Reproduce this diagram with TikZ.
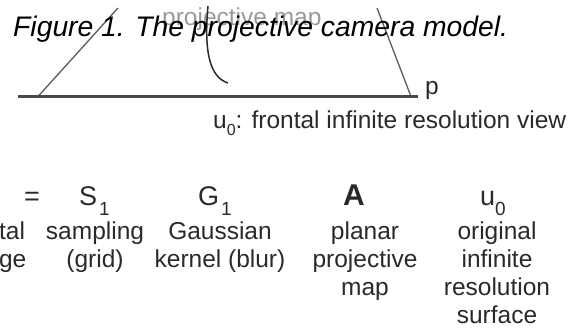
\documentclass[tikz,border=0pt]{standalone}
\usepackage{fontspec}
\setmainfont{Liberation Sans}
\definecolor{txtdark}{HTML}{2A2A2A}
\definecolor{txtgray}{HTML}{9A9A9A}
\definecolor{linegray}{HTML}{5A5A5A}
\definecolor{basegray}{HTML}{4A4A4A}
\newcommand{\subsc}[1]{\raisebox{-10pt}{\fontsize{19}{19}\selectfont #1}}
\begin{document}
\begin{tikzpicture}[x=1pt,y=-1pt,
  lbl/.style={inner sep=0pt, font=\fontsize{24.5}{28}\selectfont, text=txtdark, align=center, anchor=base},
  sym/.style={inner sep=0pt, font=\fontsize{27}{30}\selectfont, text=txtdark, anchor=base west},
  side/.style={draw=linegray, line width=1.3pt},
  baseline line/.style={draw=basegray, line width=3pt}]
\useasboundingbox (0,0) rectangle (570,329);
% faded label behind the caption
\node[inner sep=0pt, anchor=base west, text=txtgray, font=\fontsize{24.5}{28}\selectfont] (pm) at (162,26) {projective map};
% frustum lines
\coordinate (ltop) at (118,8);
\coordinate (lbot) at (38,96.5);
\coordinate (rtop) at (377,8);
\coordinate (rbot) at (411,96.5);
\coordinate (hl) at (18,96.5);
\coordinate (hr) at (418,96.5);
\draw[side] (ltop) -- (lbot);
\draw[side] (rtop) -- (rbot);
\draw[baseline line] (hl) -- (hr);
\coordinate (ctop) at (208,6);
\coordinate (cbot) at (228,83);
\draw[draw=txtdark, line width=1.5pt] (ctop) .. controls (204,50) and (209,77) .. (cbot);
\node[inner sep=0pt, anchor=base west, text=txtdark, font=\fontsize{24.5}{28}\selectfont] (p) at (425,95) {p};
% caption
\node[inner sep=0pt, anchor=base west, font=\fontsize{28.3}{32}\selectfont\itshape] (cap) at (13,37) {Figure 1. The projective camera model.};
% view label
\node[inner sep=0pt, anchor=base west, text=txtdark, font=\fontsize{24.5}{28}\selectfont] (view) at (213,128) {u\raisebox{-7pt}{\fontsize{16}{16}\selectfont 0}: frontal infinite resolution view};
% equation row
\node[sym, anchor=base] (eq) at (32,205) {=};
\node[sym] (S) at (79,205) {S\hspace{2pt}\subsc{1}};
\node[sym] (G) at (198,205) {G\hspace{2pt}\subsc{1}};
\node[sym, font=\fontsize{30}{32}\selectfont\bfseries] (A) at (343,205) {A};
\node[sym] (u) at (480,205) {u\subsc{0}};
% labels (anchor = baseline of last line)
\node[lbl] (dig) at (-7,267) {digital\\image};
\node[lbl] (samp) at (95,267) {sampling\\(grid)};
\node[lbl] (gau) at (220,267) {Gaussian\\kernel (blur)};
\node[lbl] (plan) at (365,295) {planar\\projective\\map};
\node[lbl] (orig) at (497,323) {original\\infinite\\resolution\\surface};
\end{tikzpicture}
\end{document}
